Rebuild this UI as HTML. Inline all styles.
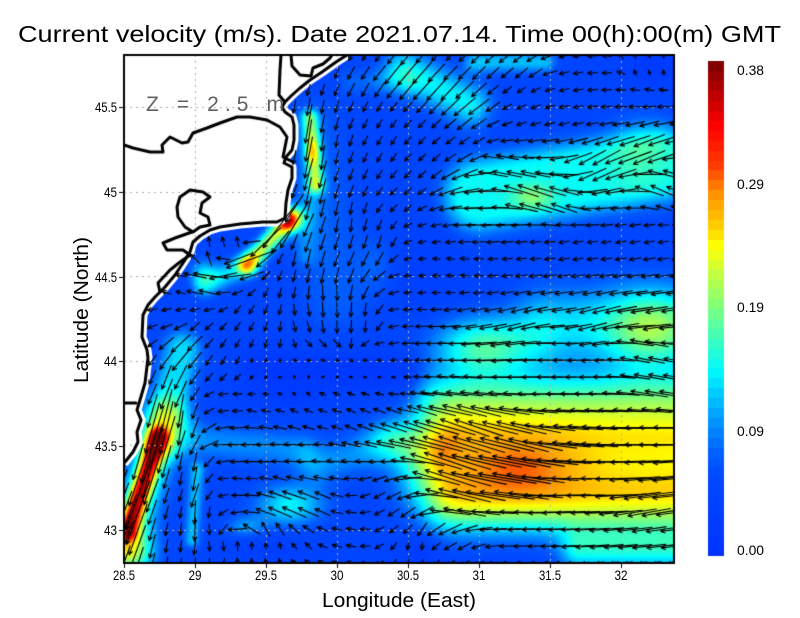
<!DOCTYPE html>
<html><head><meta charset="utf-8">
<style>
html,body{margin:0;padding:0;background:#fff;width:800px;height:618px;overflow:hidden}
#c{position:absolute;left:0;top:0}
svg{position:absolute;left:0;top:0}
text{font-family:"Liberation Sans",sans-serif;fill:#000}
</style></head>
<body>
<canvas id="c" width="800" height="618"></canvas>
<svg width="800" height="618" xmlns="http://www.w3.org/2000/svg">
<text x="18" y="42" font-size="23" textLength="763" lengthAdjust="spacingAndGlyphs">Current velocity (m/s). Date 2021.07.14. Time 00(h):00(m) GMT</text>
<text x="146" y="111" font-size="21" style="fill:#606060" textLength="138" lengthAdjust="spacing">Z = 2.5 m</text>
<text x="322" y="607" font-size="20" textLength="154" lengthAdjust="spacingAndGlyphs">Longitude (East)</text>
<text transform="translate(88,310) rotate(-90)" text-anchor="middle" font-size="20" textLength="146" lengthAdjust="spacingAndGlyphs">Latitude (North)</text>
<g font-size="14" text-anchor="end">
<text x="117" y="112" textLength="22" lengthAdjust="spacingAndGlyphs">45.5</text>
<text x="117" y="197" textLength="13" lengthAdjust="spacingAndGlyphs">45</text>
<text x="117" y="282" textLength="22" lengthAdjust="spacingAndGlyphs">44.5</text>
<text x="117" y="366" textLength="13" lengthAdjust="spacingAndGlyphs">44</text>
<text x="117" y="451" textLength="22" lengthAdjust="spacingAndGlyphs">43.5</text>
<text x="117" y="535" textLength="13" lengthAdjust="spacingAndGlyphs">43</text>
</g>
<g font-size="14" text-anchor="middle">
<text x="124" y="580" textLength="22" lengthAdjust="spacingAndGlyphs">28.5</text>
<text x="195" y="580" textLength="13" lengthAdjust="spacingAndGlyphs">29</text>
<text x="266" y="580" textLength="22" lengthAdjust="spacingAndGlyphs">29.5</text>
<text x="337" y="580" textLength="13" lengthAdjust="spacingAndGlyphs">30</text>
<text x="408" y="580" textLength="22" lengthAdjust="spacingAndGlyphs">30.5</text>
<text x="479" y="580" textLength="13" lengthAdjust="spacingAndGlyphs">31</text>
<text x="550" y="580" textLength="22" lengthAdjust="spacingAndGlyphs">31.5</text>
<text x="621" y="580" textLength="13" lengthAdjust="spacingAndGlyphs">32</text>
</g>
<g font-size="14">
<text x="737" y="75" textLength="27" lengthAdjust="spacingAndGlyphs">0.38</text>
<text x="737" y="189" textLength="27" lengthAdjust="spacingAndGlyphs">0.29</text>
<text x="737" y="312" textLength="27" lengthAdjust="spacingAndGlyphs">0.19</text>
<text x="737" y="436" textLength="27" lengthAdjust="spacingAndGlyphs">0.09</text>
<text x="737" y="555" textLength="27" lengthAdjust="spacingAndGlyphs">0.00</text>
</g>
</svg>
<script>
(function(){
const cv=document.getElementById('c');const ctx=cv.getContext('2d');
const X0=124,Y0=55,W=550,H=508;
function S(x1,y1,x2,y2,s,a,w){return {t:0,x1:x1,y1:y1,x2:x2,y2:y2,k:1/(2*s*s),a:a,w:w||0};}
function B(x,y,sx,sy,a){return {t:1,x:x,y:y,kx:1/(2*sx*sx),ky:1/(2*sy*sy),a:a};}
const F=[
 // left coastal jet
 S(158,438,128,530,7,0.21),S(165,420,126,545,16,0.10),S(182,350,160,440,12,0.08,4),B(130,552,18,18,0.10),S(197,470,192,540,6,0.07),
 // Danube outflow
 S(310,118,316,185,6,0.12),B(312,152,5,10,0.06),B(290,218,9,8,0.21),S(285,225,247,265,7,0.16),S(247,265,205,285,9,0.08),
 B(203,272,10,10,0.06),S(312,185,305,255,8,0.03),S(310,130,335,300,25,0.03),
 // upper left
 S(405,70,470,105,16,0.09),S(475,62,545,62,8,0.07),S(352,82,405,82,10,0.03),
 // upper right
 S(480,195,660,165,16,0.095,18),B(532,197,14,9,0.05),B(640,145,22,28,0.03),
 // mid right
 B(483,347,35,22,0.12),B(650,330,30,30,0.08),S(550,325,674,325,28,0.08),
 // big warm region
 S(465,462,674,462,30,0.19,20),B(518,466,42,20,0.05),S(440,400,674,395,20,0.07),
 S(450,510,674,514,18,0.045),S(580,550,674,550,15,0.09),S(385,440,440,446,15,0.035),
 // middle-left band
 S(194,440,300,450,14,0.05),B(290,505,25,15,0.09),S(320,465,390,442,15,0.05),B(245,527,15,8,0.05),B(377,265,15,22,0.03),
 // arrow-length tweaks (blue zones)
 S(260,368,400,372,14,-0.035),B(290,395,25,10,-0.02),B(650,65,20,15,-0.03),B(420,550,15,12,-0.025),
 B(270,548,25,10,-0.02),B(420,270,30,30,-0.015)
];
function speed(x,y){let s=0.05;for(let i=0;i<F.length;i++){const f=F[i];let e;
 if(f.t){const dx=x-f.x,dy=y-f.y;e=dx*dx*f.kx+dy*dy*f.ky;}
 else{const vx=f.x2-f.x1,vy=f.y2-f.y1;let t=((x-f.x1)*vx+(y-f.y1)*vy)/(vx*vx+vy*vy);t=t<0?0:(t>1?1:t);
  const dx=x-f.x1-t*vx,dy=y-f.y1-t*vy;let dd=Math.sqrt(dx*dx+dy*dy)-f.w;if(dd<0)dd=0;e=dd*dd*f.k;}
 if(e<14)s+=f.a*Math.exp(-e);}
 return s<0.004?0.004:s;}
const CM=[[0,0,50,255],[0.06,0,72,255],[0.078,0,92,255],[0.1,0,140,255],[0.116,0,180,255],[0.142,0,250,255],
 [0.167,60,255,190],[0.193,130,255,120],[0.218,200,255,60],[0.239,255,255,0],[0.252,255,210,0],[0.277,255,150,0],
 [0.30,255,60,0],[0.33,255,0,0],[0.38,120,0,0]];
function cmap(v){if(v<=0)return CM[0].slice(1);if(v>=0.38)return CM[CM.length-1].slice(1);
 for(let i=1;i<CM.length;i++){if(v<=CM[i][0]){const a=CM[i-1],b=CM[i];const t=(v-a[0])/(b[0]-a[0]);
  return [a[1]+(b[1]-a[1])*t,a[2]+(b[2]-a[2])*t,a[3]+(b[3]-a[3])*t];}}return [120,0,0];}
// field
const img=ctx.createImageData(W,H);const d=img.data;
for(let py=0;py<H;py++){for(let px=0;px<W;px++){const c=cmap(speed(X0+px+0.5,Y0+py+0.5));const k=(py*W+px)*4;
 d[k]=c[0];d[k+1]=c[1];d[k+2]=c[2];d[k+3]=255;}}
ctx.putImageData(img,X0,Y0);
// coast
const coast=[[347,55],[336,62],[322,72],[310,80],[300,88],[291,96],[285,102],[282,107],[285,112],[292,117],[294,125],[294,140],[292,150],[286,157],[284,163],[292,167],[292,178],[288,190],[286,203],[285,218],[277,222],[263,222],[240,224],[220,227],[210,230],[200,236],[193,242],[190,252],[183,263],[175,275],[165,287],[155,297],[148,305],[143,315],[142,337],[147,350],[148,358],[145,383],[140,400],[137,410],[141,420],[137,432],[138,442],[133,452],[125,462],[124,463]];
function poly(pts,close){const p=new Path2D();p.moveTo(pts[0][0],pts[0][1]);for(let i=1;i<pts.length;i++)p.lineTo(pts[i][0],pts[i][1]);if(close)p.closePath();return p;}
const landPts=coast.concat([[124,55]]);
const land=poly(landPts,true);const coastP=poly(coast,false);
ctx.save();ctx.beginPath();ctx.rect(X0,Y0,W,H);ctx.clip();
ctx.fillStyle='#fff';ctx.fill(land);
ctx.strokeStyle='#fff';ctx.lineWidth=9;ctx.lineJoin='round';ctx.stroke(coastP);
const mask=ctx.getImageData(0,0,800,618).data;
// grid
ctx.setLineDash([2,4]);ctx.strokeStyle='#b2aea6';ctx.lineWidth=1;
for(let l=29;l<=32.01;l+=0.5){const x=Math.round(124+(l-28.5)*142)+0.5;ctx.beginPath();ctx.moveTo(x,Y0);ctx.lineTo(x,Y0+H);ctx.stroke();}
for(let l=43;l<=45.51;l+=0.5){const y=Math.round(107+(45.5-l)*169)+0.5;ctx.beginPath();ctx.moveTo(X0,y);ctx.lineTo(X0+W,y);ctx.stroke();}
ctx.setLineDash([]);
// directions
const D=[[330,70,110],[355,80,120],[380,65,130],[400,85,130],[440,90,132],[480,70,135],[520,70,140],[560,75,165],[600,75,175],[640,62,265],[665,62,270],[620,95,180],[660,100,180],[590,120,170],[650,125,165],[420,120,135],[460,130,140],[470,150,150],[420,160,135],[500,165,195],[530,195,200],[560,205,200],[600,160,150],[650,150,155],[665,190,205],[470,215,180],[520,235,175],[570,245,170],[640,240,170],[430,240,170],[415,280,175],[460,275,185],
[300,135,95],[330,150,95],[350,165,110],[380,150,120],[310,200,98],[350,220,95],[380,240,105],[400,200,135],[425,230,165],[445,265,190],[300,260,100],[330,300,85],[300,320,70],[360,320,90],[410,320,180],[300,360,0],[335,362,10],[375,362,180],[300,395,225],[340,395,200],[400,400,180],[360,100,115],[320,110,100],
[305,130,100],[292,210,125],[262,243,135],[232,265,140],[215,250,270],[240,238,265],[236,272,180],[205,292,195],[172,292,200],[170,320,160],[200,330,135],[250,320,120],[280,300,105],[180,360,130],[220,360,120],[250,360,110],[280,340,100],
[170,380,110],[160,420,105],[150,460,105],[140,500,110],[135,540,110],[180,420,95],[190,470,95],[200,520,90],[195,545,95],[165,545,100],
[230,400,180],[260,412,195],[300,415,200],[355,415,205],[390,412,205],[230,445,180],[265,460,180],[305,450,180],[235,482,185],[280,490,200],[320,505,205],[350,522,190],[380,500,150],[400,530,140],[245,548,275],[272,548,265],[305,548,225],[335,545,195],[215,540,75],[235,525,175],
[425,310,180],[470,310,168],[520,318,165],[600,318,165],[660,318,170],[450,350,180],[550,350,180],[650,352,192],[450,380,185],[550,380,180],[660,385,190],[420,420,200],[470,430,200],[520,440,195],[580,440,185],[650,440,180],[450,470,200],[520,480,190],[600,480,180],[660,480,175],[460,500,195],[560,510,178],[650,510,170],[415,548,90],[450,545,150],[520,540,178],[620,545,175]];
for(const p of D){p[3]=Math.cos(p[2]*Math.PI/180);p[4]=Math.sin(p[2]*Math.PI/180);}
function dir(x,y){let u=0,v=0;for(let i=0;i<D.length;i++){const p=D[i];const dx=x-p[0],dy=y-p[1];const d2=dx*dx+dy*dy+64;const w=1/(d2*Math.sqrt(d2));u+=w*p[3];v+=w*p[4];}return Math.atan2(v,u);}
// arrows
const K=205;ctx.strokeStyle='#000';ctx.lineWidth=1.1;ctx.lineCap='butt';
for(let i=0;i<=39;i++){const x=124+i*14.2;
 for(let j=0;j<=30;j++){const y=563-j*16.9;
  const mx=Math.min(799,Math.round(x)),my=Math.min(617,Math.round(y));const mk=(my*800+mx)*4;
  if(mask[mk]>250&&mask[mk+1]>250&&mask[mk+2]>250)continue;
  const sp=speed(x,y);const a=dir(x,y);let L=Math.min(sp*K,80);if(L<2.5)L=2.5;
  const dx=Math.cos(a)*L,dy=Math.sin(a)*L;const x2=x+dx/2,y2=y+dy/2;
  const h=Math.min(5,L*0.7),ha=0.45;
  ctx.beginPath();ctx.moveTo(x-dx/2,y-dy/2);ctx.lineTo(x2,y2);
  ctx.moveTo(x2-h*Math.cos(a-ha),y2-h*Math.sin(a-ha));ctx.lineTo(x2,y2);ctx.lineTo(x2-h*Math.cos(a+ha),y2-h*Math.sin(a+ha));
  ctx.stroke();}}
// coastline & borders
ctx.strokeStyle='#000';ctx.lineWidth=3;ctx.lineJoin='round';ctx.lineCap='round';
ctx.stroke(coastP);
const lines=[
 [[124,145],[133,148],[150,152],[163,152],[162,145],[170,137],[182,143],[188,142],[193,133],[207,128],[220,123],[237,117],[250,117],[267,120],[280,127],[287,137],[285,147],[283,157],[293,162]],
 [[124,403],[136,403]],
 [[281,55],[280,70],[279,95],[284,101]],
 [[291,55],[292,66],[300,75],[311,76],[313,68],[323,64],[330,58],[332,55]],
 [[190,190],[203,192],[210,197],[202,203],[200,213],[208,217],[210,225],[200,227],[193,232],[185,227],[178,217],[177,207],[180,197],[190,190]],
 [[192,232],[175,238],[163,243],[167,250],[183,250],[190,255],[180,262],[170,270],[158,283],[160,292]]
];
for(const l of lines)ctx.stroke(poly(l,false));
ctx.restore();
// frame
ctx.strokeStyle='#000';ctx.lineWidth=2;ctx.strokeRect(X0,Y0,W,H);
ctx.lineWidth=1;ctx.beginPath();
[107,192,277,361,446,530].forEach(y=>{ctx.moveTo(119,y+0.5);ctx.lineTo(124,y+0.5);});
[124,195,266,337,408,479,550,621].forEach(x=>{ctx.moveTo(x+0.5,563);ctx.lineTo(x+0.5,568);});
ctx.stroke();
// colorbar
for(let y=61;y<556;y++){const v=0.38*(556-y)/495;const q=Math.floor(v/0.0076)*0.0076+0.0038;const c=cmap(q);
 ctx.fillStyle='rgb('+Math.round(c[0])+','+Math.round(c[1])+','+Math.round(c[2])+')';ctx.fillRect(708,y,16,1);}
})();
</script>
</body></html>
